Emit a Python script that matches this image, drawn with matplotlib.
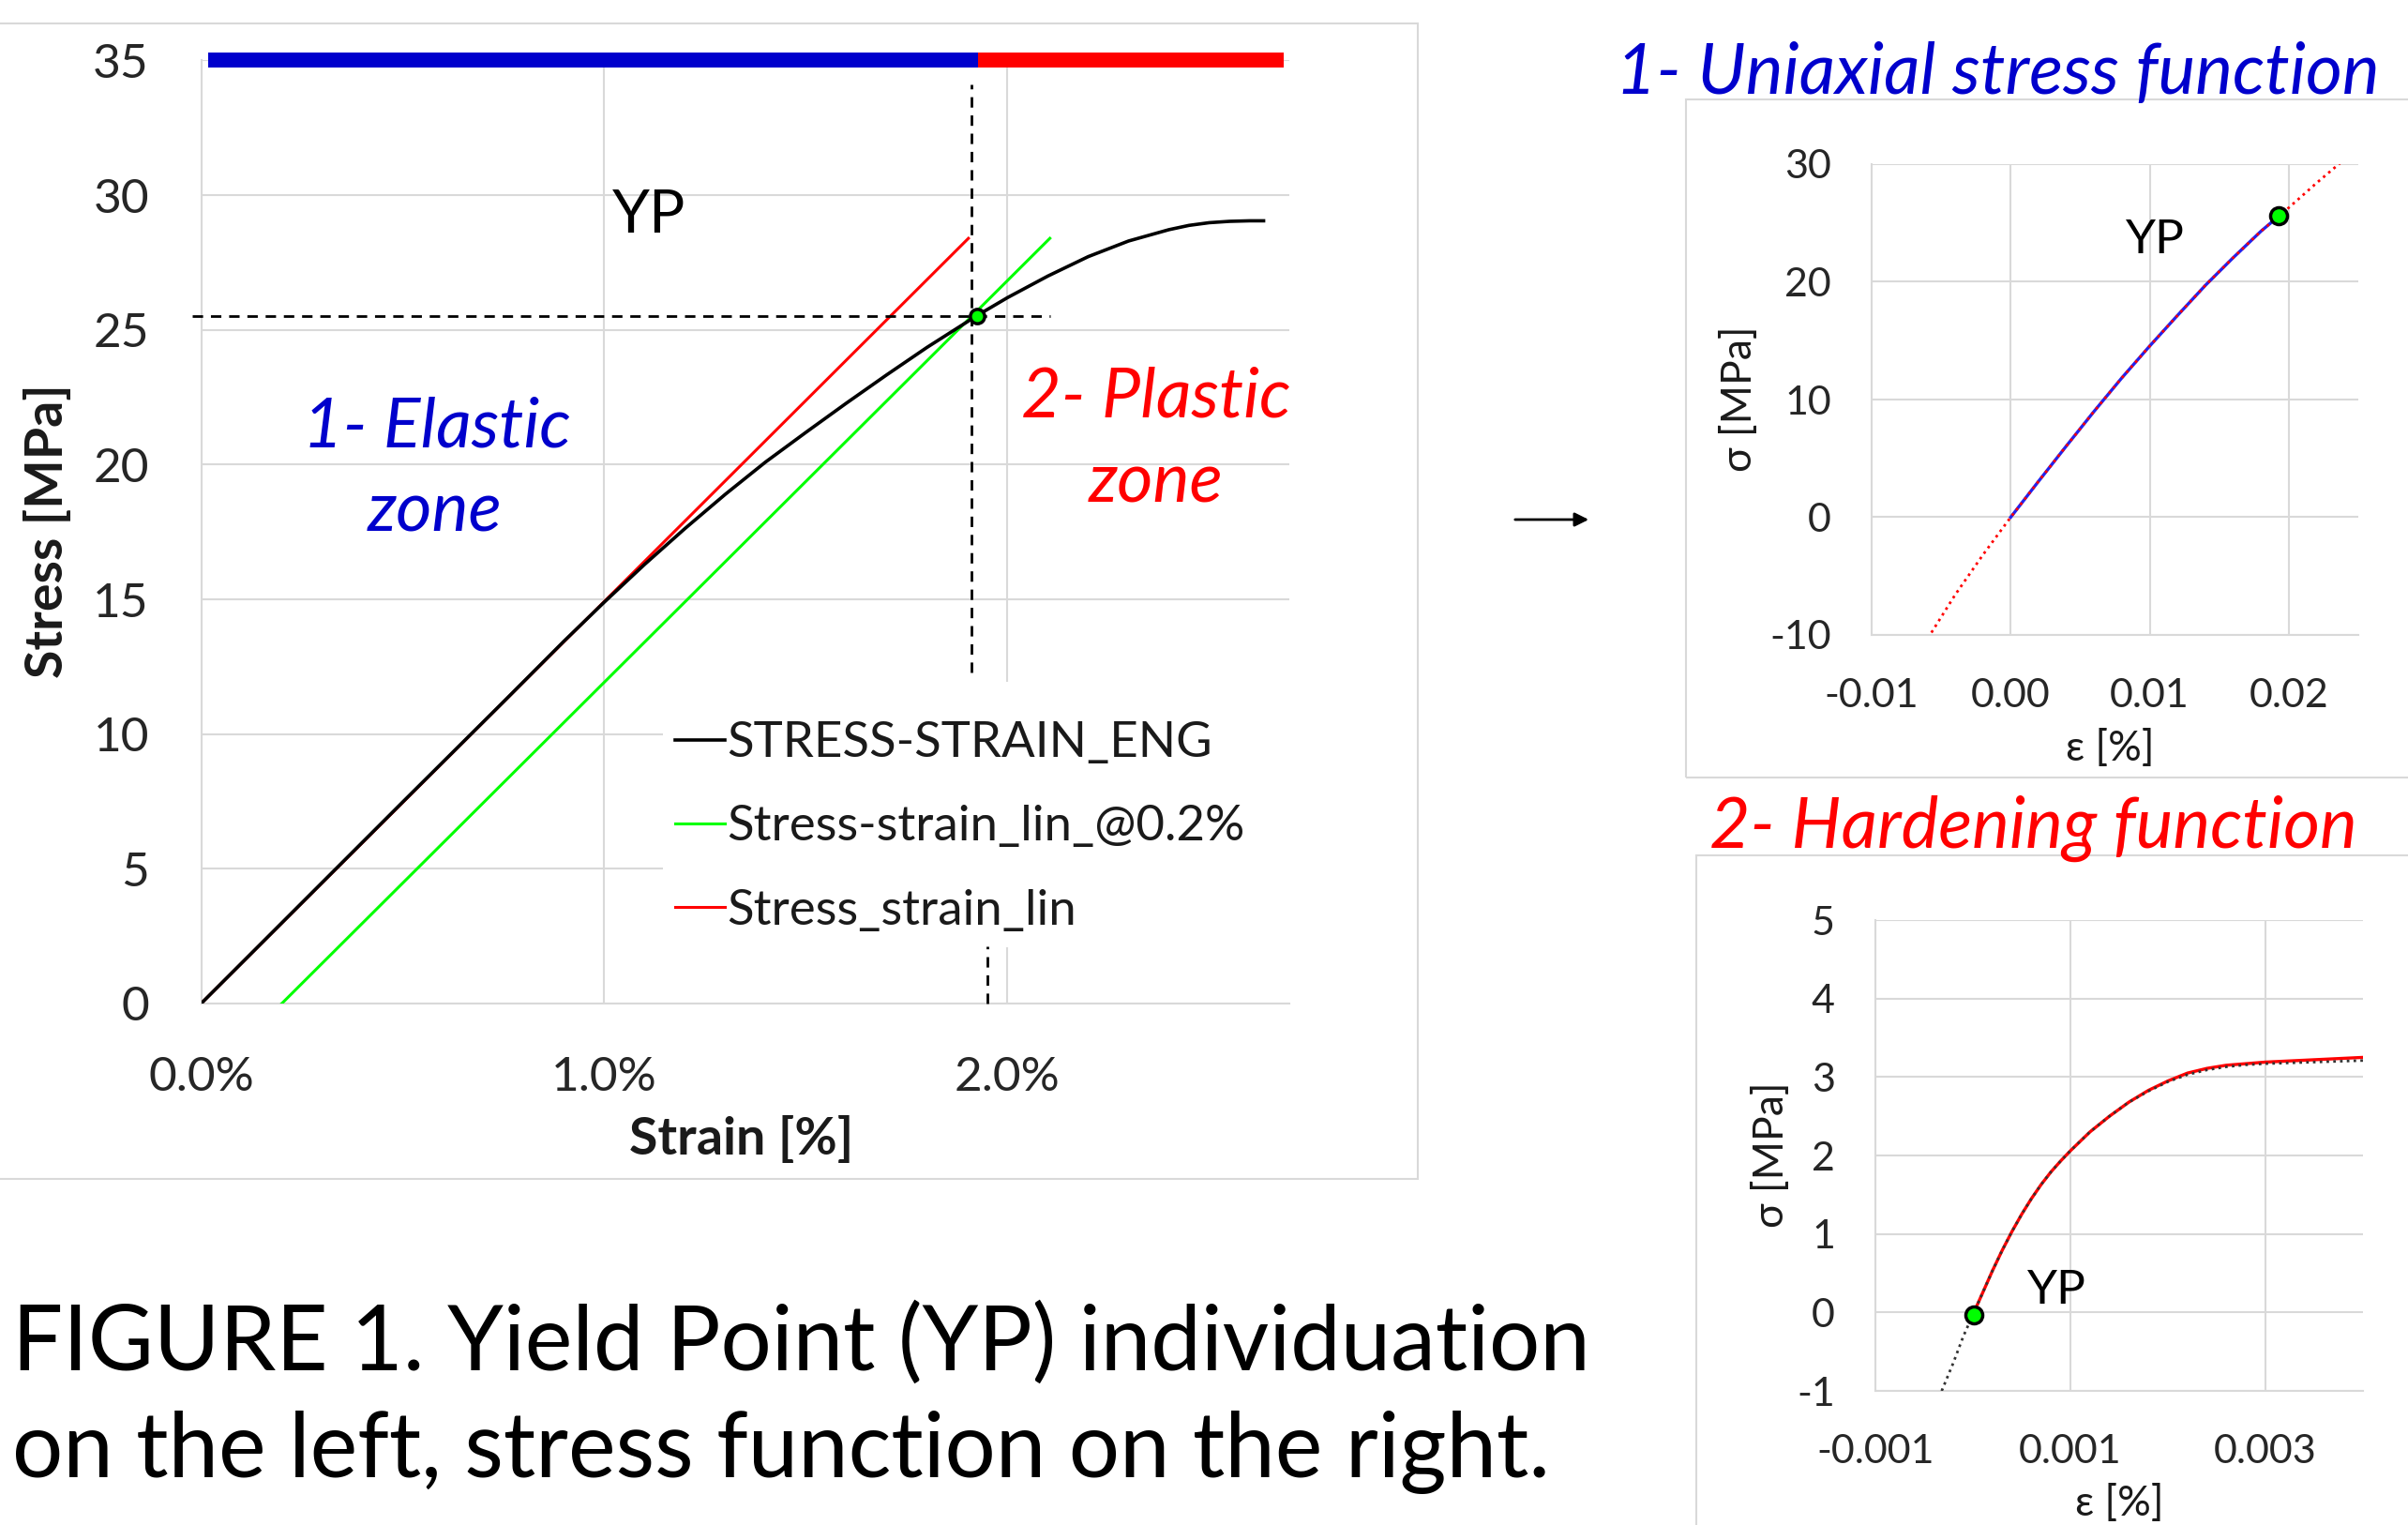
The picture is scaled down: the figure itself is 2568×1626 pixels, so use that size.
import matplotlib
matplotlib.use("Agg")
import matplotlib.pyplot as plt
from matplotlib.patches import Rectangle, FancyArrowPatch

plt.rcParams['font.family'] = ['Lato', 'DejaVu Sans']
plt.rcParams['axes.unicode_minus'] = False

# ---------------- data: main chart (strain in %, stress in MPa) ----------------
eng_strain = [0.0, 0.25, 0.5, 0.75, 0.9, 1.0, 1.1, 1.2, 1.3, 1.4, 1.5, 1.6, 1.7, 1.8,
              1.924, 2.0, 2.1, 2.2, 2.3, 2.4, 2.45, 2.5, 2.55, 2.6, 2.635]
eng_stress = [0.0, 3.74, 7.48, 11.2, 13.45, 14.9, 16.3, 17.63, 18.9, 20.1, 21.2, 22.28, 23.33, 24.35,
              25.53, 26.2, 27.0, 27.72, 28.3, 28.72, 28.88, 28.98, 29.03, 29.05, 29.05]
lin_strain = [0.0, 1.903]
lin_stress = [0.0, 28.4]
offset_strain = [0.2, 2.105]
offset_stress = [0.0, 28.4]
yp_strain = 1.924
yp_stress = 25.53
elastic_zone = [0.018, 1.927]
plastic_zone = [1.927, 2.685]
hdash_x = [-0.023, 2.105]
vdash_top_x = 1.91
vdash_top_y = [12.3, 34.1]
vdash_low_x = 1.951
vdash_low_y = [0.0, 2.13]
main_yticks = [0, 5, 10, 15, 20, 25, 30, 35]
main_xticks = [0.0, 1.0, 2.0]
main_xticklabels = ['0.0%', '1.0%', '2.0%']
legend_labels = ['STRESS-STRAIN_ENG', 'Stress-strain_lin_@0.2%', 'Stress_strain_lin']

# ---------------- data: uniaxial stress function ----------------
uni_fit_strain = [-0.0057, -0.004, -0.002, 0.0, 0.002, 0.004, 0.006, 0.008, 0.010, 0.012,
                  0.014, 0.016, 0.018, 0.0193, 0.020, 0.022, 0.0237]
uni_fit_stress = [-9.8, -6.6, -3.2, 0.0, 3.05, 6.05, 9.0, 11.85, 14.55, 17.15,
                  19.7, 22.05, 24.3, 25.6, 26.3, 28.4, 30.1]
uni_data_strain = [0.0, 0.002, 0.004, 0.006, 0.008, 0.010, 0.012, 0.014, 0.016, 0.018, 0.0193]
uni_data_stress = [0.0, 3.05, 6.05, 9.0, 11.85, 14.55, 17.15, 19.7, 22.05, 24.3, 25.6]
uni_yp = (0.0193, 25.6)
uni_xticks = [-0.01, 0.0, 0.01, 0.02]
uni_xticklabels = ['-0.01', '0.00', '0.01', '0.02']
uni_yticks = [-10, 0, 10, 20, 30]

# ---------------- data: hardening function ----------------
hard_strain = [0.00001, 0.0001, 0.0002, 0.0003, 0.0004, 0.0005, 0.0006, 0.0007, 0.0008, 0.0009,
               0.0010, 0.0012, 0.0014, 0.0016, 0.0018, 0.0020, 0.0022, 0.0024, 0.0026, 0.0028,
               0.0030, 0.0035, 0.0040]
hard_stress = [0.0, 0.25, 0.53, 0.79, 1.03, 1.25, 1.45, 1.63, 1.79, 1.93,
               2.06, 2.30, 2.50, 2.68, 2.83, 2.95, 3.05, 3.11, 3.15, 3.17,
               3.19, 3.22, 3.25]
hard_fit_strain = [-0.00032, -0.0002, -0.0001, 0.00001, 0.0001, 0.0002, 0.0003, 0.0004, 0.0005,
                   0.0006, 0.0007, 0.0008, 0.0009, 0.0010, 0.0012, 0.0014, 0.0016, 0.0018,
                   0.0020, 0.0022, 0.0024, 0.0026, 0.0028, 0.0030, 0.0035, 0.0040]
hard_fit_stress = [-1.0, -0.64, -0.31, 0.0, 0.25, 0.53, 0.79, 1.03, 1.25,
                   1.45, 1.63, 1.79, 1.93, 2.06, 2.30, 2.50, 2.68, 2.82,
                   2.94, 3.03, 3.09, 3.13, 3.155, 3.17, 3.19, 3.21]
hard_yp = (0.00001, -0.03)
hard_xticks = [-0.001, 0.001, 0.003]
hard_xticklabels = ['-0.001', '0.001', '0.003']
hard_yticks = [-1, 0, 1, 2, 3, 4, 5]

# ---------------- figure ----------------
W, H = 2568, 1626
fig = plt.figure(figsize=(W / 100, H / 100), dpi=100)
fig.patch.set_facecolor('white')


def fx(x):
    return x / W


def fy(y):
    return 1 - y / H


def axes_px(left, top, right, bottom):
    return fig.add_axes([fx(left), fy(bottom), (right - left) / W, (bottom - top) / H])


GRID = '#d9d9d9'
BLUE = '#0000cc'
RED = '#ff0000'
GREEN = '#00ff00'

# outer boxes
for (l, t, r, b) in [(-5, 25, 1512, 1257), (1798, 106, 2600, 829), (1809, 912, 2600, 1700)]:
    fig.add_artist(Rectangle((fx(l), fy(b)), (r - l) / W, (b - t) / H, transform=fig.transFigure,
                             facecolor='none', edgecolor=GRID, lw=1.5, zorder=0))


def style_axes(ax):
    for s in ['top', 'right']:
        ax.spines[s].set_visible(False)
    for s in ['left', 'bottom']:
        ax.spines[s].set_color(GRID)
        ax.spines[s].set_linewidth(1.5)
    ax.grid(True, color=GRID, lw=1.5)
    ax.set_axisbelow(True)
    ax.tick_params(length=0)


# ---------------- main chart ----------------
ax = axes_px(214.5, 64.5, 1375.5, 1070)
style_axes(ax)
ax.set_xlim(0, 2.70)
ax.set_ylim(0, 35)
ax.set_yticks(main_yticks)
ax.set_xticks(main_xticks)
ax.set_xticklabels(main_xticklabels)
ax.tick_params(axis='x', labelsize=37, pad=40, colors='#262626')
ax.tick_params(axis='y', labelsize=37, pad=40, colors='#262626')

# white legend area covering gridlines
ax.add_patch(Rectangle((fx(707), fy(1010)), (1384 - 707) / W, (1010 - 727) / H,
                       transform=fig.transFigure, facecolor='white', edgecolor='none',
                       zorder=1, clip_on=False))

l1, = ax.plot(eng_strain, eng_stress, color='black', lw=2.6, zorder=4)
l2, = ax.plot(offset_strain, offset_stress, color=GREEN, lw=2.2, zorder=3)
l3, = ax.plot(lin_strain, lin_stress, color=RED, lw=2.2, zorder=3)

ax.plot(elastic_zone, [35, 35], color=BLUE, lw=11.5, solid_capstyle='butt', clip_on=False, zorder=5)
ax.plot(plastic_zone, [35, 35], color=RED, lw=11.5, solid_capstyle='butt', clip_on=False, zorder=5)

dash = dict(color='black', lw=2.0, ls=(0, (4, 3)), clip_on=False, zorder=6)
ax.plot(hdash_x, [yp_stress, yp_stress], **dash)
ax.plot([vdash_top_x, vdash_top_x], vdash_top_y, **dash)
ax.plot([vdash_low_x, vdash_low_x], vdash_low_y, **dash)

ax.plot([yp_strain], [yp_stress], 'o', ms=11, mfc=GREEN, mec='black', mew=2.5, zorder=7)

leg = ax.legend([l1, l2, l3], legend_labels, loc='upper left',
                bbox_to_anchor=(fx(707), fy(756)), bbox_transform=fig.transFigure,
                fontsize=38, frameon=False, borderpad=0.25, handlelength=1.0, handletextpad=0.05,
                labelspacing=0.8, borderaxespad=0)
leg.set_zorder(5)
for t in leg.get_texts():
    t.set_color('#1a1a1a')

fig.text(fx(692), fy(230), 'YP', fontsize=46, ha='center', va='center', color='black')
fig.text(fx(466), fy(456), '1- Elastic', fontsize=53, style='italic', ha='center', va='center', color=BLUE)
fig.text(fx(464), fy(546), 'zone', fontsize=53, style='italic', ha='center', va='center', color=BLUE)
fig.text(fx(1233), fy(424), '2- Plastic', fontsize=53, style='italic', ha='center', va='center', color=RED)
fig.text(fx(1233), fy(515), 'zone', fontsize=53, style='italic', ha='center', va='center', color=RED)
fig.text(fx(791), fy(1214), 'Strain [%]', fontsize=40, fontweight='bold', ha='center', va='center', color='#1a1a1a')
fig.text(fx(51), fy(566), 'Stress [MPa]', fontsize=40, fontweight='bold', rotation=90,
         ha='center', va='center', color='#1a1a1a')

# ---------------- uniaxial stress function ----------------
ax2 = axes_px(1996, 175, 2515, 677)
style_axes(ax2)
ax2.set_xlim(-0.01, 0.025)
ax2.set_ylim(-10, 30)
ax2.set_xticks(uni_xticks)
ax2.set_xticklabels(uni_xticklabels)
ax2.set_yticks(uni_yticks)
ax2.tick_params(axis='x', labelsize=31, pad=33, colors='#262626')
ax2.tick_params(axis='y', labelsize=31, pad=31, colors='#262626')
ax2.plot(uni_data_strain, uni_data_stress, color='#2222ee', lw=2.4, zorder=3)
ax2.plot(uni_fit_strain, uni_fit_stress, color=RED, lw=2.0, ls=(0, (1, 1.6)), zorder=4)
ax2.plot([uni_yp[0]], [uni_yp[1]], 'o', ms=13, mfc=GREEN, mec='black', mew=2.5, zorder=6)
fig.text(fx(2298), fy(256), 'YP', fontsize=37, ha='center', va='center', color='black')
fig.text(fx(1856), fy(425), 'σ [MPa]', fontsize=32, rotation=90, ha='center', va='center', color='#1a1a1a')
fig.text(fx(2250), fy(798), 'ε [%]', fontsize=32, ha='center', va='center', color='#1a1a1a')
fig.text(fx(2130), fy(78), '1- Uniaxial stress function', fontsize=54, style='italic',
         ha='center', va='center', color=BLUE)

# ---------------- hardening function ----------------
ax3 = axes_px(2000, 981, 2520, 1483)
style_axes(ax3)
ax3.set_xlim(-0.001, 0.004)
ax3.set_ylim(-1, 5)
ax3.set_xticks(hard_xticks)
ax3.set_xticklabels(hard_xticklabels)
ax3.set_yticks(hard_yticks)
ax3.tick_params(axis='x', labelsize=31, pad=33, colors='#262626')
ax3.tick_params(axis='y', labelsize=31, pad=31, colors='#262626')
ax3.plot(hard_strain, hard_stress, color=RED, lw=2.4, zorder=3)
ax3.plot(hard_fit_strain, hard_fit_stress, color='#333333', lw=2.0, ls=(0, (1, 1.6)), zorder=4)
ax3.plot([hard_yp[0]], [hard_yp[1]], 'o', ms=13, mfc=GREEN, mec='black', mew=2.5, zorder=6)
fig.text(fx(2193), fy(1376), 'YP', fontsize=37, ha='center', va='center', color='black')
fig.text(fx(1889), fy(1231), 'σ [MPa]', fontsize=32, rotation=90, ha='center', va='center', color='#1a1a1a')
fig.text(fx(2260), fy(1603), 'ε [%]', fontsize=32, ha='center', va='center', color='#1a1a1a')
fig.text(fx(2168), fy(883), '2- Hardening function', fontsize=54, style='italic',
         ha='center', va='center', color=RED)

# arrow
fig.add_artist(FancyArrowPatch((fx(1613), fy(554)), (fx(1697), fy(554)), transform=fig.transFigure,
                               arrowstyle='-|>', mutation_scale=22, lw=2, color='black'))

# caption
fig.text(fx(13), fy(1433), 'FIGURE 1. Yield Point (YP) individuation', fontsize=69,
         ha='left', va='center', color='black')
fig.text(fx(13), fy(1548), 'on the left, stress function on the right.', fontsize=69,
         ha='left', va='center', color='black')

fig.savefig('out.png', dpi=100, facecolor='white')
